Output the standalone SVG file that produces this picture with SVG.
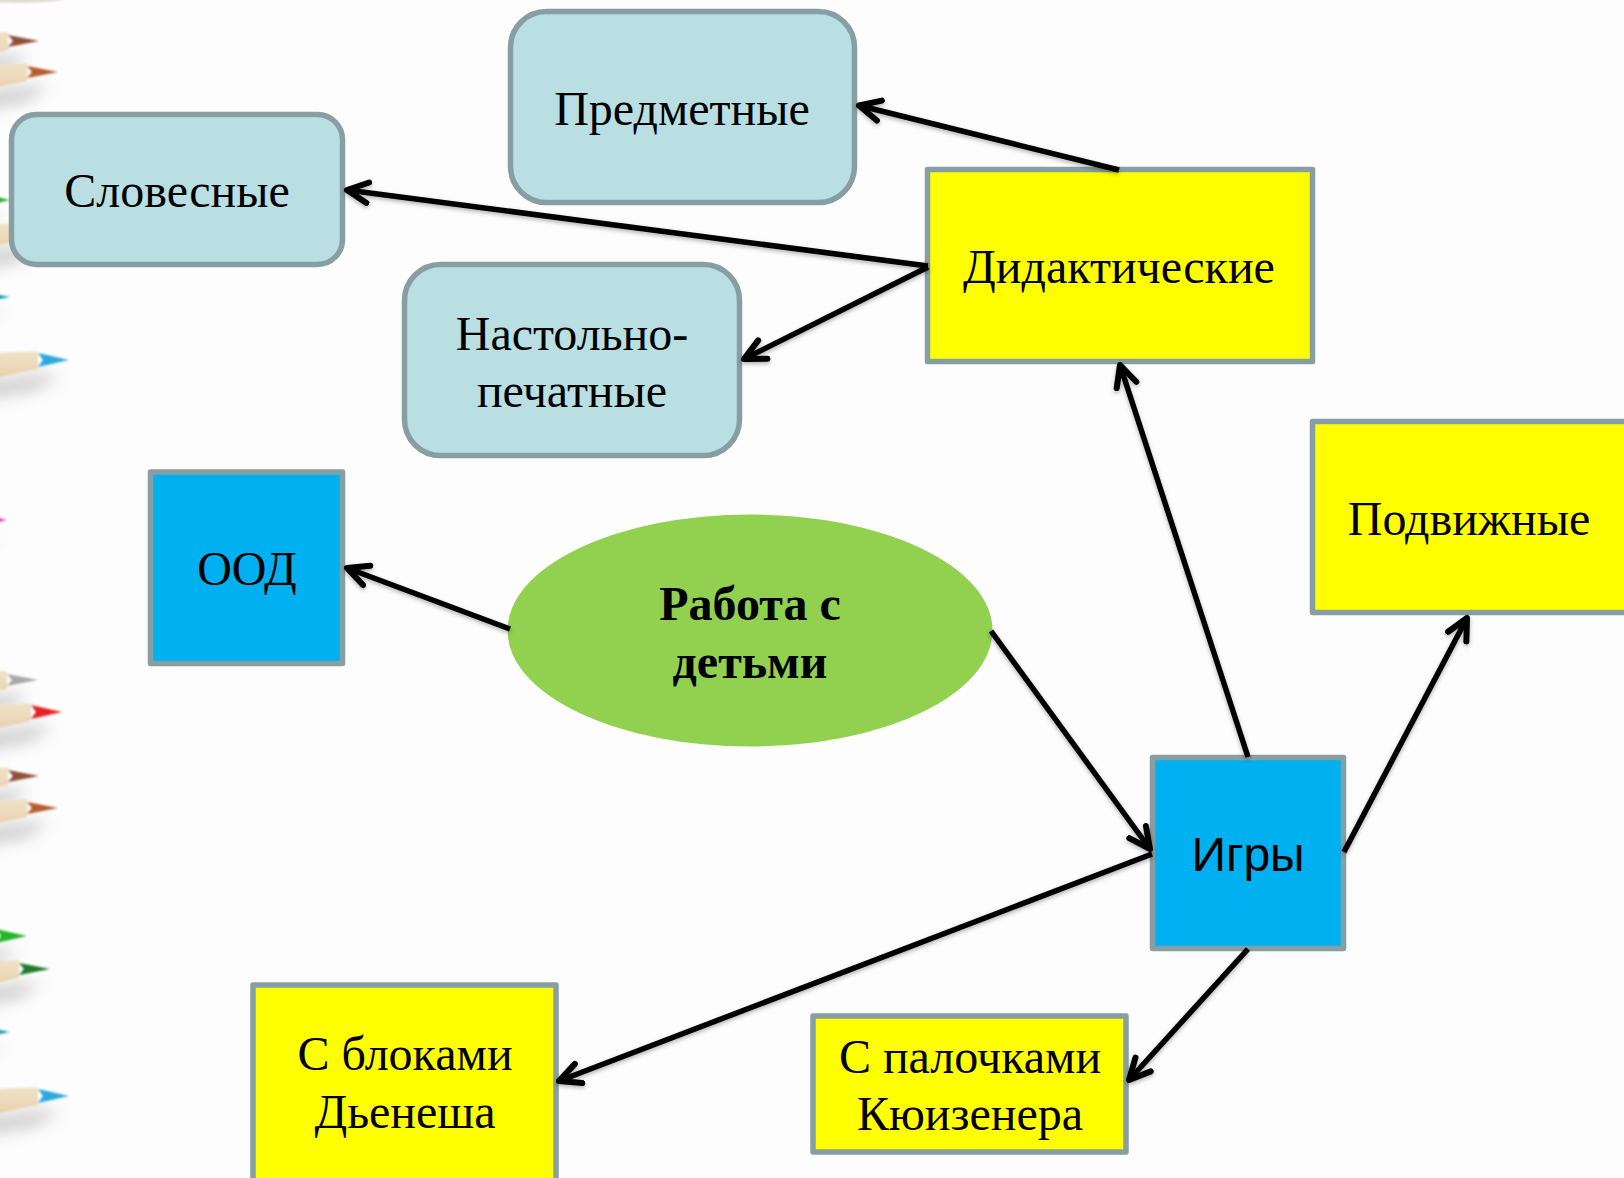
<svg xmlns="http://www.w3.org/2000/svg" width="1624" height="1178" viewBox="0 0 1624 1178">
<style>
.box{stroke:#879fa3;stroke-width:5.500;stroke-linejoin:round}
.teal{fill:#b9dfe2}.yellow{fill:#ffff00}.blue{fill:#00b0f0}
.serif{font-family:"Liberation Serif","Times New Roman",serif;font-size:48px;fill:#000;text-anchor:middle}
.sans{font-family:"Liberation Sans",Arial,sans-serif;font-size:48px;fill:#000;text-anchor:middle}
.con{fill:none;stroke:#000;stroke-width:5.500;stroke-linecap:butt;stroke-linejoin:round;filter:url(#ls)}
</style>
<defs>
<filter id="ls" x="-20%" y="-20%" width="140%" height="140%"><feDropShadow dx="0" dy="2" stdDeviation="2" flood-color="#000" flood-opacity=".3"/></filter>
<filter id="b8" x="-50%" y="-100%" width="200%" height="300%"><feGaussianBlur stdDeviation="8"/></filter>
<filter id="b1" x="-20%" y="-40%" width="140%" height="180%"><feGaussianBlur stdDeviation="1.100"/></filter>
<linearGradient id="wood" x1="0" y1="0" x2="0" y2="1"><stop offset="0" stop-color="#f1e2c8"/><stop offset=".6" stop-color="#e8d3b0"/><stop offset="1" stop-color="#c4b49a"/></linearGradient>
<marker id="ah" viewBox="-24 -14 28 28" markerWidth="28" markerHeight="28" refX="0" refY="0" orient="auto" markerUnits="userSpaceOnUse"><path d="M-21-10.300L0 0L-21 10.300" fill="none" stroke="#000" stroke-width="6" stroke-linecap="round" stroke-linejoin="round"/></marker>
<g id="pb"><path d="M-120 26L-32 14L-8 14L-32 30L-120 46Z" fill="#7a7a7a" opacity=".36" filter="url(#b8)"/><path d="M-130 -4L-31 -9L-31 9L-130 30Z" fill="url(#wood)" filter="url(#b1)"/></g>
</defs>
<rect width="1624" height="1178" fill="#fdfdfd"/>
<g id="pencils">
<ellipse cx="20" cy="-2" rx="45" ry="5" fill="#cfc6b6" opacity=".6" filter="url(#b1)"/>
<g transform="translate(39,41)"><use href="#pb"/><path d="M0 0L-31-6L-26 0L-31 6Z" fill="#8f5138" filter="url(#b1)"/></g>
<g transform="translate(58,72)"><use href="#pb"/><path d="M0 0L-31-6L-26 0L-31 6Z" fill="#b85c2a" filter="url(#b1)"/></g>
<g transform="translate(10,200)"><use href="#pb"/><path d="M0 0L-31-7L-26 0L-31 7Z" fill="#21b52c" filter="url(#b1)"/></g>
<g transform="translate(50,232)"><use href="#pb"/></g>
<g transform="translate(10,297)"><use href="#pb"/><path d="M0 0L-31-6L-26 0L-31 6Z" fill="#1f9db0" filter="url(#b1)"/></g>
<g transform="translate(69,360)"><use href="#pb"/><path d="M0 0L-31-7L-26 0L-31 7Z" fill="#2aa9e0" filter="url(#b1)"/></g>
<g transform="translate(7,520)"><use href="#pb"/><path d="M0 0L-31-6L-26 0L-31 6Z" fill="#e01fb0" filter="url(#b1)"/></g>
<g transform="translate(38,680)"><use href="#pb"/><path d="M0 0L-31-6L-26 0L-31 6Z" fill="#a9a9a9" filter="url(#b1)"/></g>
<g transform="translate(62,712)"><use href="#pb"/><path d="M0 0L-31-7L-26 0L-31 7Z" fill="#e52222" filter="url(#b1)"/></g>
<g transform="translate(39,776)"><use href="#pb"/><path d="M0 0L-31-6L-26 0L-31 6Z" fill="#8f5138" filter="url(#b1)"/></g>
<g transform="translate(58,808)"><use href="#pb"/><path d="M0 0L-31-6L-26 0L-31 6Z" fill="#b85c2a" filter="url(#b1)"/></g>
<g transform="translate(27,936)"><use href="#pb"/><path d="M0 0L-31-7L-26 0L-31 7Z" fill="#21b52c" filter="url(#b1)"/></g>
<g transform="translate(50,969)"><use href="#pb"/><path d="M0 0L-31-6L-26 0L-31 6Z" fill="#1a7a2c" filter="url(#b1)"/></g>
<g transform="translate(10,1032)"><use href="#pb"/><path d="M0 0L-31-6L-26 0L-31 6Z" fill="#1f9db0" filter="url(#b1)"/></g>
<g transform="translate(69,1096)"><use href="#pb"/><path d="M0 0L-31-7L-26 0L-31 7Z" fill="#2aa9e0" filter="url(#b1)"/></g>
</g>
<g id="n-slovesnye"><rect class="box teal" x="11.500" y="114.500" width="331" height="150" rx="25"/><text class="serif" x="177" y="207">Словесные</text></g>
<g id="n-predmetnye"><rect class="box teal" x="510.500" y="11.500" width="344" height="191" rx="36"/><text class="serif" x="682" y="125">Предметные</text></g>
<g id="n-nastolno"><rect class="box teal" x="404.500" y="264.500" width="335" height="191" rx="36"/><text class="serif" x="572" y="350">Настольно-</text><text class="serif" x="572" y="407">печатные</text></g>
<g id="n-ood"><rect class="box blue" x="150.500" y="472" width="192" height="191.500"/><text class="serif" x="247" y="585">ООД</text></g>
<g id="n-rabota"><ellipse cx="750" cy="630.500" rx="242.500" ry="116" fill="#92d050"/><text class="serif" x="750" y="620" font-weight="bold">Работа с</text><text class="serif" x="750" y="678" font-weight="bold">детьми</text></g>
<g id="n-didakt"><rect class="box yellow" x="927.500" y="169.500" width="385" height="192"/><text class="serif" x="1119" y="283">Дидактические</text></g>
<g id="n-podv"><rect class="box yellow" x="1312.500" y="421.500" width="320" height="191"/><text class="serif" x="1469" y="535">Подвижные</text></g>
<g id="n-igry"><rect class="box blue" x="1152.500" y="757.500" width="191" height="191"/><text class="sans" x="1248" y="871">Игры</text></g>
<g id="n-bloki"><rect class="box yellow" x="253" y="985" width="303" height="202"/><text class="serif" x="405" y="1070">С блоками</text><text class="serif" x="405" y="1128">Дьенеша</text></g>
<g id="n-palochki"><rect class="box yellow" x="813" y="1016" width="313" height="136"/><text class="serif" x="970" y="1073">С палочками</text><text class="serif" x="970" y="1130">Кюизенера</text></g>
<g id="connectors">
<path class="con" marker-end="url(#ah)" d="M1119 170L859 105.500"/>
<path class="con" marker-end="url(#ah)" d="M928 266L347 190"/>
<path class="con" marker-end="url(#ah)" d="M928 267L744 359"/>
<path class="con" marker-end="url(#ah)" d="M510 629L347 568"/>
<path class="con" marker-end="url(#ah)" d="M991 631L1150 849"/>
<path class="con" marker-end="url(#ah)" d="M1248 757L1120 365"/>
<path class="con" marker-end="url(#ah)" d="M1344 852L1467 618"/>
<path class="con" marker-end="url(#ah)" d="M1152 854L559 1081"/>
<path class="con" marker-end="url(#ah)" d="M1248 949L1129 1080"/>
</g>
</svg>
